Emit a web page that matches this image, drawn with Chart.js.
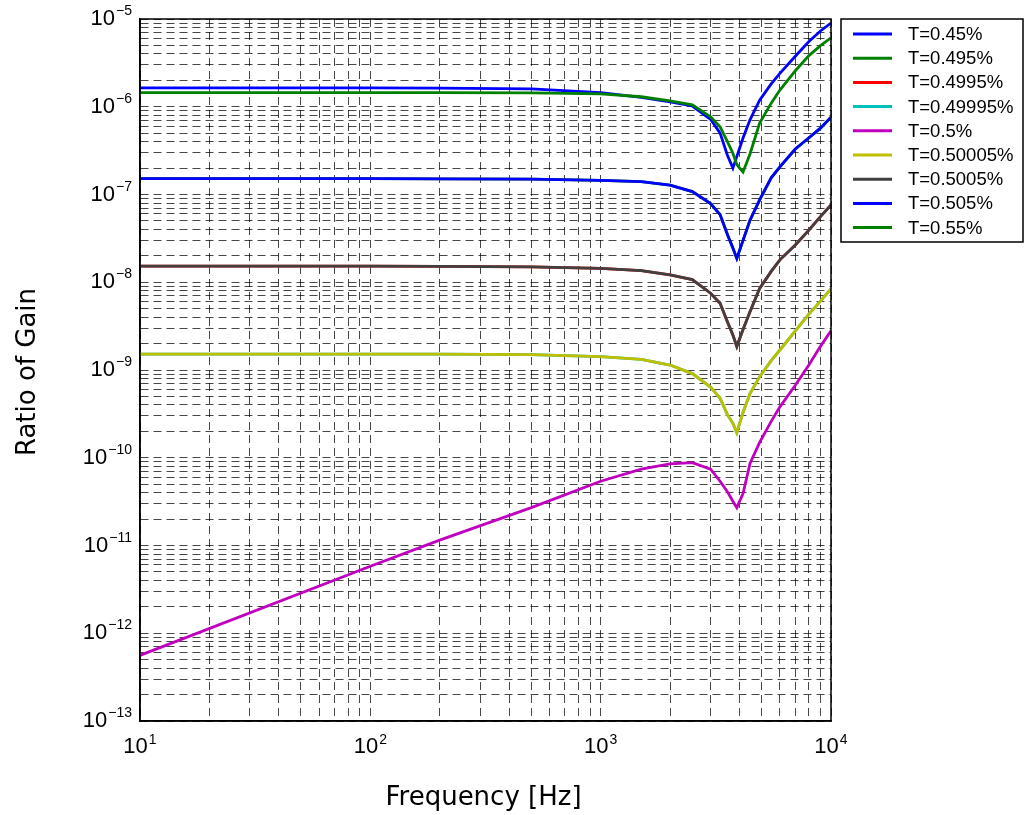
<!DOCTYPE html>
<html>
<head>
<meta charset="utf-8">
<script src="https://cdn.jsdelivr.net/npm/chart.js@4"></script>
<style>
  html, body { margin: 0; padding: 0; background: #fff; }
  canvas { display: block; }
</style>
</head>
<body>
<canvas id="gainChart" width="1026" height="815"></canvas>
<script>
// frequency samples [Hz]
const freqs = [10, 100, 200, 500, 1000, 1500, 2000, 2500, 3000, 3300, 3550, 3750, 3900, 4150, 4450, 4900, 5500, 6000, 7000, 8000, 9000, 10000];

const gain045    = [1.64e-6, 1.64e-6, 1.63e-6, 1.6e-6, 1.45e-6, 1.28e-6, 1.14e-6, 1.02e-6, 7.2e-7, 5.0e-7, 2.8e-7, 2.0e-7, 2.7e-7, 4.4e-7, 7.1e-7, 1.19e-6, 1.82e-6, 2.4e-6, 3.76e-6, 5.5e-6, 7.3e-6, 9.0e-6];
const gain0495   = [1.52e-7, 1.52e-7, 1.51e-7, 1.5e-7, 1.45e-7, 1.4e-7, 1.28e-7, 1.08e-7, 7.9e-8, 5.9e-8, 3.5e-8, 2.46e-8, 1.87e-8, 3.0e-8, 5.1e-8, 8.7e-8, 1.55e-7, 2.07e-7, 3.3e-7, 4.4e-7, 5.7e-7, 7.6e-7];
const gain04995  = [1.53e-8, 1.53e-8, 1.52e-8, 1.5e-8, 1.44e-8, 1.36e-8, 1.21e-8, 1.07e-8, 7.5e-9, 5.75e-9, 3.55e-9, 2.5e-9, 1.85e-9, 2.9e-9, 4.6e-9, 8.5e-9, 1.33e-8, 1.8e-8, 2.66e-8, 3.9e-8, 5.6e-8, 7.6e-8];
const gain049995 = [1.52e-9, 1.52e-9, 1.52e-9, 1.5e-9, 1.42e-9, 1.32e-9, 1.14e-9, 9.1e-10, 6.4e-10, 4.75e-10, 3.1e-10, 2.47e-10, 1.93e-10, 3.3e-10, 5.4e-10, 8.4e-10, 1.28e-9, 1.69e-9, 2.8e-9, 4.3e-9, 6.1e-9, 8.4e-9];
const gain05     = [5.6e-13, 5.8e-12, 1.15e-11, 2.7e-11, 5.4e-11, 7.4e-11, 8.5e-11, 8.8e-11, 7.4e-11, 5.4e-11, 4.1e-11, 3.2e-11, 2.7e-11, 3.9e-11, 8.6e-11, 1.5e-10, 2.6e-10, 3.8e-10, 6.7e-10, 1.13e-9, 1.86e-9, 2.8e-9];
const gain050005 = [1.52e-9, 1.52e-9, 1.52e-9, 1.5e-9, 1.42e-9, 1.32e-9, 1.14e-9, 9.1e-10, 6.4e-10, 4.75e-10, 3.1e-10, 2.47e-10, 1.93e-10, 3.3e-10, 5.4e-10, 8.4e-10, 1.28e-9, 1.69e-9, 2.8e-9, 4.3e-9, 6.1e-9, 8.4e-9];
const gain05005  = [1.53e-8, 1.53e-8, 1.52e-8, 1.5e-8, 1.44e-8, 1.36e-8, 1.21e-8, 1.07e-8, 7.5e-9, 5.75e-9, 3.55e-9, 2.5e-9, 1.85e-9, 2.9e-9, 4.6e-9, 8.5e-9, 1.33e-8, 1.8e-8, 2.66e-8, 3.9e-8, 5.6e-8, 7.6e-8];
const gain0505   = [1.52e-7, 1.52e-7, 1.51e-7, 1.5e-7, 1.45e-7, 1.4e-7, 1.28e-7, 1.08e-7, 7.9e-8, 5.9e-8, 3.5e-8, 2.46e-8, 1.87e-8, 3.0e-8, 5.1e-8, 8.7e-8, 1.55e-7, 2.07e-7, 3.3e-7, 4.4e-7, 5.7e-7, 7.6e-7];
const gain055    = [1.45e-6, 1.45e-6, 1.45e-6, 1.44e-6, 1.4e-6, 1.3e-6, 1.17e-6, 1.05e-6, 7.7e-7, 5.9e-7, 4.0e-7, 2.95e-7, 2.2e-7, 1.8e-7, 2.9e-7, 6.5e-7, 1.1e-6, 1.55e-6, 2.57e-6, 3.8e-6, 4.97e-6, 6.1e-6];

const seriesLabels = ['T=0.45%', 'T=0.495%', 'T=0.4995%', 'T=0.49995%', 'T=0.5%', 'T=0.50005%', 'T=0.5005%', 'T=0.505%', 'T=0.55%'];
const seriesValues = [gain045, gain0495, gain04995, gain049995, gain05, gain050005, gain05005, gain0505, gain055];
const seriesColors = ['#0000ff', '#008000', '#ff0000', '#00bfbf', '#bf00bf', '#bfbf00', '#404040', '#0000ff', '#008000'];

// labelled decades (exponents of 10)
const xTickExps = [1, 2, 3, 4];
const yTickExps = [-13, -12, -11, -10, -9, -8, -7, -6, -5];

const xTitle = 'Frequency [Hz]';
const yTitle = 'Ratio of Gain';

// log grid: 1..9 x 10^n between the first and last decade
function logGrid(exps) {
  const out = [];
  for (let e = exps[0]; e < exps[exps.length - 1]; e++) {
    for (let m = 1; m < 10; m++) out.push(m * Math.pow(10, e));
  }
  out.push(Math.pow(10, exps[exps.length - 1]));
  return out;
}

function setGrid(exps) {
  return (scale) => {
    scale.ticks = logGrid(exps).map(v => ({ value: v }));
  };
}

function drawPow(ctx, exp, x, y, align, big, small, rise) {
  const base = '10';
  const sup = String(exp).replace('-', '\u2212');
  ctx.font = big + 'px "Liberation Sans", Arial, sans-serif';
  const wb = ctx.measureText(base).width;
  ctx.font = small + 'px "Liberation Sans", Arial, sans-serif';
  const ws = ctx.measureText(sup).width;
  const total = wb + ws + 1;
  let x0 = align === 'right' ? x - total : x - total / 2;
  ctx.textAlign = 'left';
  ctx.textBaseline = 'alphabetic';
  ctx.font = big + 'px "Liberation Sans", Arial, sans-serif';
  ctx.fillText(base, x0, y);
  ctx.font = small + 'px "Liberation Sans", Arial, sans-serif';
  ctx.fillText(sup, x0 + wb + 1, y - rise);
}

const decorations = {
  id: 'decorations',
  afterDraw(chart) {
    const { ctx, chartArea: a, scales } = chart;
    ctx.save();

    // axes box
    ctx.strokeStyle = '#000';
    ctx.lineWidth = 1.5;
    ctx.strokeRect(a.left, a.top, a.right - a.left, a.bottom - a.top);

    ctx.fillStyle = '#000';
    yTickExps.forEach(e => {
      const py = scales.y.getPixelForValue(Math.pow(10, e));
      drawPow(ctx, e, a.left - 8, py + 6, 'right', 22, 14, 10);
    });
    xTickExps.forEach(e => {
      const px = scales.x.getPixelForValue(Math.pow(10, e));
      drawPow(ctx, e, px, a.bottom + 32, 'center', 22, 14, 9);
    });

    // axis titles
    ctx.font = '26px "DejaVu Sans", sans-serif';
    ctx.textAlign = 'center';
    ctx.textBaseline = 'alphabetic';
    ctx.fillText(xTitle, (a.left + a.right) / 2 - 2, 805);
    ctx.save();
    ctx.translate(35, (a.top + a.bottom) / 2 + 2);
    ctx.rotate(-Math.PI / 2);
    ctx.fillText(yTitle, 0, 0);
    ctx.restore();

    // legend
    const lx = a.right + 10, ly = a.top, lw = 182, lh = 223;
    ctx.fillStyle = '#fff';
    ctx.fillRect(lx, ly, lw, lh);
    ctx.strokeStyle = '#000';
    ctx.lineWidth = 1.5;
    ctx.strokeRect(lx, ly, lw, lh);
    ctx.font = '18.5px "Liberation Sans", Arial, sans-serif';
    ctx.textAlign = 'left';
    ctx.textBaseline = 'middle';
    seriesLabels.forEach((label, i) => {
      const ry = ly + 15 + i * 24.2;
      ctx.strokeStyle = seriesColors[i];
      ctx.lineWidth = 3;
      ctx.beginPath();
      ctx.moveTo(lx + 12, ry);
      ctx.lineTo(lx + 51, ry);
      ctx.stroke();
      ctx.fillStyle = '#000';
      ctx.fillText(label, lx + 67, ry + 1);
    });

    ctx.restore();
  }
};

const datasets = seriesLabels.map((label, i) => ({
  label: label,
  data: freqs.map((f, j) => ({ x: f, y: seriesValues[i][j] })),
  borderColor: seriesColors[i],
  backgroundColor: seriesColors[i],
  borderWidth: 2.8,
  pointRadius: 0,
  tension: 0,
  fill: false,
  order: seriesLabels.length - i
}));

const gridStyle = {
  color: 'rgba(0,0,0,0.72)',
  lineWidth: 1,
  drawTicks: false
};

new Chart(document.getElementById('gainChart'), {
  type: 'line',
  data: { datasets: datasets },
  options: {
    responsive: false,
    animation: false,
    events: [],
    layout: { padding: { left: 140, top: 19, right: 195, bottom: 94 } },
    plugins: {
      legend: { display: false },
      tooltip: { enabled: false }
    },
    scales: {
      x: {
        type: 'logarithmic',
        min: Math.pow(10, xTickExps[0]),
        max: Math.pow(10, xTickExps[xTickExps.length - 1]),
        afterBuildTicks: setGrid(xTickExps),
        ticks: { display: false },
        grid: gridStyle,
        border: { display: true, color: '#000', width: 1.5, dash: [8, 5] }
      },
      y: {
        type: 'logarithmic',
        min: Math.pow(10, yTickExps[0]),
        max: Math.pow(10, yTickExps[yTickExps.length - 1]),
        afterBuildTicks: setGrid(yTickExps),
        ticks: { display: false },
        grid: gridStyle,
        border: { display: true, color: '#000', width: 1.5, dash: [8, 5] }
      }
    }
  },
  plugins: [decorations]
});
</script>
</body>
</html>
